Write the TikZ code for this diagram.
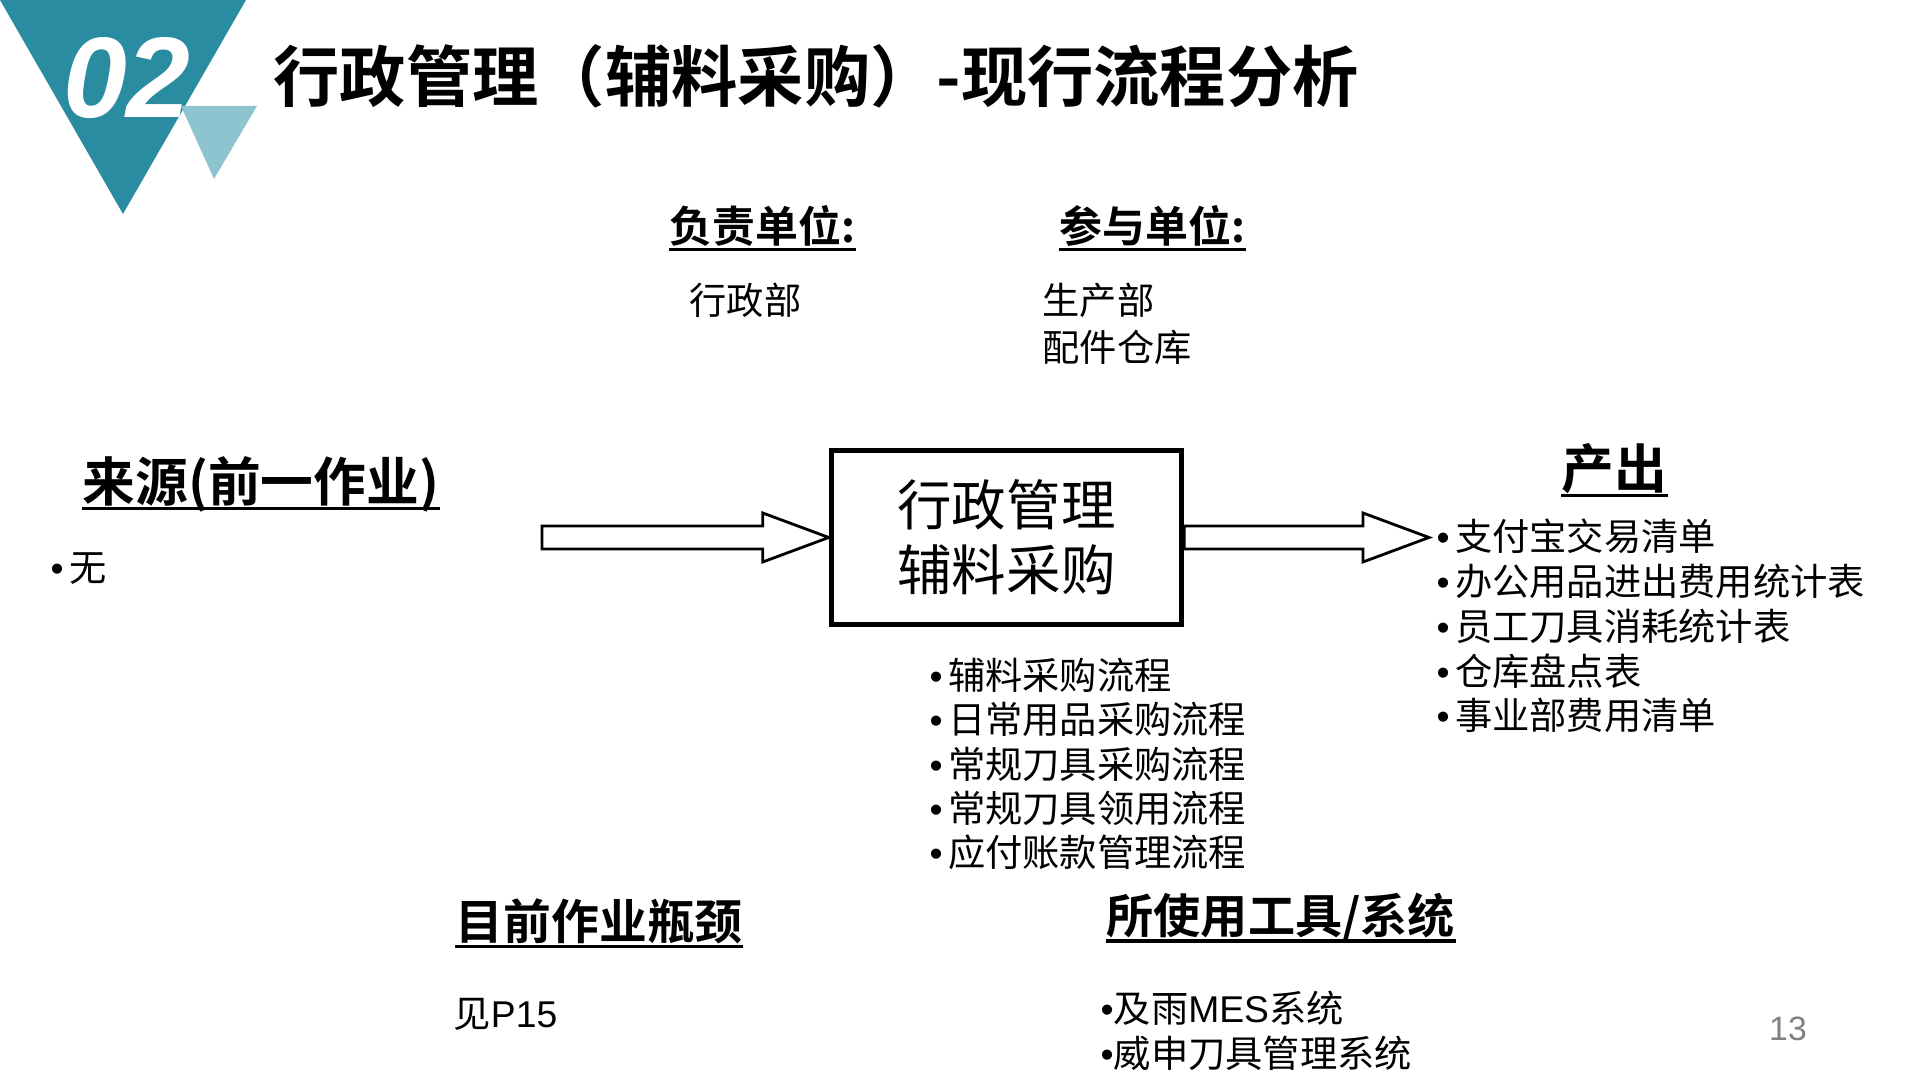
\documentclass[tikz,border=0pt]{standalone}
\usepackage{fontspec}
\setmainfont{Noto Sans CJK SC}[BoldFont={Noto Sans CJK SC Bold}]
\newfontfamily\latin{Liberation Sans}
\usetikzlibrary{calc,positioning}

\definecolor{logoteal}{RGB}{41,140,160}
\definecolor{logolight}{RGB}{142,196,208}
\definecolor{pagegray}{RGB}{128,128,128}

\newcommand\bul{{\latin •}\hspace{1.5pt}}

\tikzset{
    head/.style={font=\bfseries\fontsize{15}{18}\selectfont, inner sep=0pt, anchor=west},
    subhead/.style={font=\bfseries\fontsize{12.2}{14}\selectfont, inner sep=0pt, anchor=west},
    body/.style={font=\fontsize{10.6}{12.7}\selectfont, inner sep=0pt, align=left, anchor=west},
    ul/.style={line width=0.9pt},
    procbox/.style={draw, line width=1.5pt, minimum width=3.5cm, minimum height=1.74cm,
        align=center, font=\fontsize{15.5}{18.4}\selectfont},
    hollowarr/.style={draw, fill=white, line width=0.8pt, line join=miter}
}

% hollow block arrow between two points on one level
\newcommand\blockarrow[2]{%
    \draw[hollowarr] ($(#1)+(0,-11.5)$) -- ($(#2)+(-66,-11.5)$) -- ($(#2)+(-66,-24.5)$)
        -- (#2) -- ($(#2)+(-66,24.5)$) -- ($(#2)+(-66,11.5)$) -- ($(#1)+(0,11.5)$) -- cycle;}

% underline below a heading
\newcommand\underhead[1]{%
    \draw[ul] ([yshift=-2pt]#1.base west) -- ([yshift=-2pt]#1.base east);}

\begin{document}
\begin{tikzpicture}[x=0.01cm, y=-0.01cm]
    \useasboundingbox (0,0) rectangle (1920,1080);

    % logo
    \fill[logoteal] (0,0) -- (246,0) -- (123,214) -- cycle;
    \fill[logolight] (181,106) -- (257,106) -- (214,179) -- cycle;
    \node[text=white, inner sep=0pt, font=\latin\bfseries\itshape\fontsize{32.6}{36}\selectfont]
        (num) at (127,78) {02};
    \node[inner sep=0pt, anchor=west, font=\bfseries\fontsize{18.85}{22}\selectfont]
        (title) at (273,76) {行政管理（辅料采购）-现行流程分析};

    % units
    \node[subhead] (resp) at (669,226) {负责单位:};
    \node[subhead] (part) at (1059,226) {参与单位:};
    \underhead{resp}
    \underhead{part}
    \node[body] (respdep) at (689,300) {行政部};
    \node[body, font=\fontsize{10.6}{13.3}\selectfont] (partdep) at (1042,323.5) {生产部\\配件仓库};

    % input
    \node[head] (src) at (82,484) {来源(前一作业)};
    \underhead{src}
    \node[body] (srclist) at (50,569) {\bul 无};

    % process
    \node[procbox] (proc) at (1006.5,537.5) {行政管理\\辅料采购};
    \coordinate (srcend) at (542,537.5);
    \coordinate (outend) at (1429,537.5);
    \blockarrow{srcend}{proc.west}
    \blockarrow{proc.east}{outend}
    \node[body, font=\fontsize{10.6}{12.6}\selectfont] (proclist) at (929,764)
        {\bul 辅料采购流程\\\bul 日常用品采购流程\\\bul 常规刀具采购流程\\\bul 常规刀具领用流程\\\bul 应付账款管理流程};

    % output
    \node[head] (out) at (1561,469) {产出};
    \underhead{out}
    \node[body, font=\fontsize{10.6}{12.75}\selectfont] (outlist) at (1436,626)
        {\bul 支付宝交易清单\\\bul 办公用品进出费用统计表\\\bul 员工刀具消耗统计表\\\bul 仓库盘点表\\\bul 事业部费用清单};

    % bottleneck and tools
    \node[head, font=\bfseries\fontsize{13.6}{16}\selectfont] (neck) at (455,921) {目前作业瓶颈};
    \node[head, font=\bfseries\fontsize{13.4}{16}\selectfont] (tool) at (1106,918) {所使用工具/系统};
    \underhead{neck}
    \underhead{tool}
    \node[body] (necknote) at (453,1014) {见{\latin P15}};
    \node[body, font=\fontsize{10.6}{12.75}\selectfont] (toollist) at (1100,1030.5)
        {{\latin •}及雨{\latin MES}系统\\{\latin •}威申刀具管理系统};

    % page number
    \node[text=pagegray, inner sep=0pt, font=\latin\fontsize{9.6}{11}\selectfont] (page) at (1788,1029) {13};
\end{tikzpicture}
\end{document}
